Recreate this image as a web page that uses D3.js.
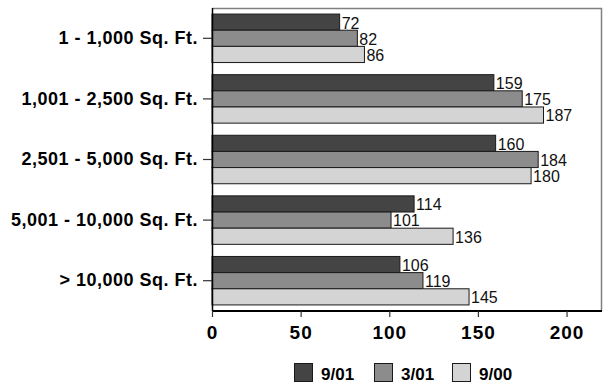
<!DOCTYPE html>
<html>
<head>
<meta charset="utf-8">
<script src="https://cdn.jsdelivr.net/npm/d3@7"></script>
<style>
  body { margin: 0; background: #fff; }
  text { font-family: "Liberation Sans", Arial, sans-serif; }
</style>
</head>
<body>
<div id="viz"></div>
<script>
// data
let categories = ['1 - 1,000 Sq. Ft.', '1,001 - 2,500 Sq. Ft.', '2,501 - 5,000 Sq. Ft.', '5,001 - 10,000 Sq. Ft.', '> 10,000 Sq. Ft.'];
let seriesNames = ['9/01', '3/01', '9/00'];
let s901 = [72, 159, 160, 114, 106];
let s301 = [82, 175, 184, 101, 119];
let s900 = [86, 187, 180, 136, 145];
let xTicks = [0, 50, 100, 150, 200];
let colors = ['#444444', '#8c8c8c', '#d4d4d4'];

let seriesVals = [s901, s301, s900];

let margin = {top: 8, right: 1, bottom: 75, left: 212},
    width = 603 - margin.left - margin.right,
    height = 386 - margin.top - margin.bottom;

let svg = d3.select('#viz')
  .append('svg')
  .attr('width', 603)
  .attr('height', 386);

let g = svg.append('g')
  .attr('transform', `translate(${margin.left}, ${margin.top})`);

let x = d3.scaleLinear().domain([0, 220]).range([0, width]);

let y = d3.scaleBand()
  .domain(categories)
  .range([0, height])
  .paddingInner(0.2)
  .paddingOuter(0.1);

let ySub = d3.scaleBand()
  .domain(seriesNames)
  .range([0, y.bandwidth()]);

// frame (top + right in grey)
g.append('line').attr('x1', 0).attr('x2', width).attr('y1', 0.5).attr('y2', 0.5)
  .attr('stroke', '#808080').attr('stroke-width', 1.5);
g.append('line').attr('x1', width - 0.5).attr('x2', width - 0.5).attr('y1', 0).attr('y2', height)
  .attr('stroke', '#808080').attr('stroke-width', 1.5);

// bars
let rows = categories.map((c, i) => ({cat: c, vals: seriesNames.map((s, j) => ({s: s, v: seriesVals[j][i], k: j}))}));

let grp = g.selectAll('.bar-group')
  .data(rows)
  .join('g')
  .attr('class', 'bar-group')
  .attr('transform', d => `translate(0, ${y(d.cat)})`);

grp.selectAll('rect')
  .data(d => d.vals)
  .join('rect')
  .attr('x', 0)
  .attr('y', d => ySub(d.s))
  .attr('width', d => x(d.v))
  .attr('height', ySub.bandwidth())
  .attr('fill', d => colors[d.k])
  .attr('stroke', '#1a1a1a')
  .attr('stroke-width', 1);

grp.selectAll('.val')
  .data(d => d.vals)
  .join('text')
  .attr('class', 'val')
  .attr('x', d => x(d.v) + 2)
  .attr('y', d => ySub(d.s) + ySub.bandwidth() / 2)
  .attr('dy', '0.4em')
  .style('font-size', '16px')
  .attr('fill', '#111')
  .text(d => d.v);

// y axis
let yAxis = g.append('g')
  .call(d3.axisLeft(y).tickSize(9).tickPadding(5));
yAxis.select('.domain').attr('stroke', '#000').attr('stroke-width', 1.5).attr('d', `M0.5,0V${height}`);
yAxis.selectAll('.tick line').attr('stroke', '#333').attr('stroke-width', 1.2);
yAxis.selectAll('.tick text')
  .style('font-size', '18px')
  .style('font-weight', 'bold')
  .style('letter-spacing', '0.5px')
  .attr('fill', '#000');

// x axis
let xAxis = g.append('g')
  .attr('transform', `translate(0, ${height})`)
  .call(d3.axisBottom(x).tickValues(xTicks).tickSize(6).tickPadding(9));
xAxis.select('.domain').attr('stroke', '#000').attr('stroke-width', 2).attr('d', `M0,0H${width}`);
xAxis.selectAll('.tick line').attr('stroke', '#333').attr('stroke-width', 1.2);
xAxis.selectAll('.tick text')
  .style('font-size', '19px')
  .style('font-weight', 'bold')
  .style('letter-spacing', '1px')
  .attr('fill', '#000');

// legend
let legendX = [294, 374, 452];
let legend = svg.append('g').selectAll('g')
  .data(seriesNames)
  .join('g')
  .attr('transform', (d, i) => `translate(${legendX[i]}, 363)`);

legend.append('rect')
  .attr('width', 18).attr('height', 18)
  .attr('x', 0.5).attr('y', 0.5)
  .attr('fill', (d, i) => colors[i])
  .attr('stroke', '#1a1a1a');

legend.append('text')
  .attr('x', 27)
  .attr('y', 17)
  .style('font-size', '17px')
  .style('font-weight', 'bold')
  .attr('fill', '#000')
  .text(d => d);
</script>
</body>
</html>
